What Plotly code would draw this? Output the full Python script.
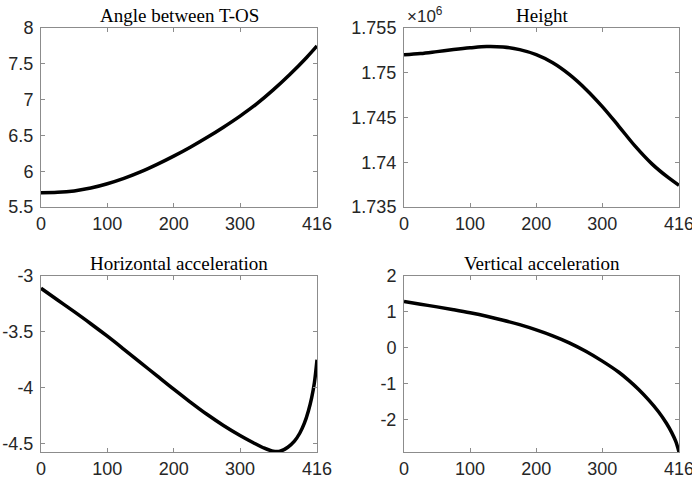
import plotly.graph_objects as go

W, H = 692, 478

# ---- data ----
x_angle = [0, 25, 50, 75, 100, 125, 150, 175, 200, 225, 250, 275, 300, 325, 350, 375, 400, 416]
angle = [5.70, 5.705, 5.725, 5.765, 5.825, 5.90, 5.99, 6.095, 6.21, 6.335, 6.47, 6.615, 6.77,
         6.94, 7.135, 7.35, 7.585, 7.75]

x_height = [0, 25, 50, 75, 100, 125, 150, 175, 200, 225, 250, 275, 300, 325, 350, 375, 400, 416]
height_e6 = [1.75200, 1.75214, 1.75236, 1.75259, 1.75279, 1.75294, 1.75288, 1.75258, 1.75202,
             1.75112, 1.74982, 1.74817, 1.74622, 1.74402, 1.74177, 1.73982, 1.73827, 1.73742]

x_hacc = [0, 25, 50, 75, 100, 125, 150, 175, 200, 225, 250, 275, 300, 320, 335, 348, 360, 372,
          382, 390, 397, 403, 408, 412, 416]
h_acc = [-3.11, -3.215, -3.32, -3.428, -3.54, -3.657, -3.776, -3.896, -4.015, -4.13, -4.24, -4.34,
         -4.43, -4.495, -4.54, -4.568, -4.572, -4.535, -4.48, -4.41, -4.32, -4.21, -4.09, -3.96, -3.75]

x_vacc = [0, 25, 50, 75, 100, 125, 150, 175, 200, 225, 250, 275, 300, 325, 340, 355, 370, 385,
          397, 405, 411, 416]
v_acc = [1.29, 1.215, 1.14, 1.06, 0.975, 0.88, 0.77, 0.645, 0.50, 0.335, 0.14, -0.095, -0.37,
         -0.68, -0.905, -1.16, -1.45, -1.78, -2.10, -2.36, -2.60, -2.90]

titles = ["Angle between T-OS", "Height", "Horizontal acceleration", "Vertical acceleration"]

x_tickvals = [0, 100, 200, 300, 416]
x_ticktext = ["0", "100", "200", "300", "416"]

y1_tickvals = [5.5, 6, 6.5, 7, 7.5, 8]
y1_ticktext = ["5.5", "6", "6.5", "7", "7.5", "8"]
y2_tickvals = [1.735, 1.74, 1.745, 1.75, 1.755]
y2_ticktext = ["1.735", "1.74", "1.745", "1.75", "1.755"]
y3_tickvals = [-4.5, -4, -3.5, -3]
y3_ticktext = ["-4.5", "-4", "-3.5", "-3"]
y4_tickvals = [-2, -1, 0, 1, 2]
y4_ticktext = ["-2", "-1", "0", "1", "2"]

# ---- layout geometry (window pixels) ----
panels = {
    1: (41, 317, 28, 207),
    2: (404, 679, 28, 207),
    3: (41, 317, 276, 452),
    4: (404, 679, 276, 452),
}
yranges = {1: [5.5, 8], 2: [1.735, 1.755], 3: [-4.578, -3], 4: [-2.9, 2]}
yticks = {1: (y1_tickvals, y1_ticktext), 2: (y2_tickvals, y2_ticktext),
          3: (y3_tickvals, y3_ticktext), 4: (y4_tickvals, y4_ticktext)}

series = {1: (x_angle, angle), 2: (x_height, height_e6), 3: (x_hacc, h_acc), 4: (x_vacc, v_acc)}


def px_x(p):
    return p / W


def px_y(p):
    return 1 - p / H


fig = go.Figure()
AX = "#8c8c8c"
TXT = "#262626"
tickfont = dict(family="Liberation Sans, Arial, sans-serif", size=18, color=TXT)

annotations = []
for i in range(1, 5):
    xs, ys = series[i]
    sfx = "" if i == 1 else str(i)
    fig.add_trace(go.Scatter(x=xs, y=ys, mode="lines", xaxis="x" + sfx, yaxis="y" + sfx,
                             line=dict(color="black", width=3.5, shape="spline", smoothing=1.0),
                             showlegend=False, hoverinfo="skip"))
    l, r, t, b = panels[i]
    xdom = [px_x(l), px_x(r)]
    ydom = [px_y(b), px_y(t)]
    common = dict(showline=True, linecolor=AX, linewidth=1, mirror="ticks", ticks="inside",
                  ticklen=4, tickcolor=AX, tickwidth=1, showgrid=False, zeroline=False,
                  tickfont=tickfont, fixedrange=True, automargin=False,
                  ticklabeloverflow="allow")
    fig.update_layout(**{
        "xaxis" + sfx: dict(domain=xdom, range=[0, 416], tickvals=x_tickvals, ticktext=x_ticktext,
                            anchor="y" + sfx, ticklabelstandoff=0, **common),
        "yaxis" + sfx: dict(domain=ydom, range=yranges[i], tickvals=yticks[i][0],
                            ticktext=yticks[i][1], anchor="x" + sfx, ticklabelstandoff=3, **common),
    })
    annotations.append(dict(text=titles[i - 1], x=px_x((l + r) / 2), y=px_y(t - 13),
                            xref="paper", yref="paper", xanchor="center", yanchor="middle",
                            showarrow=False,
                            font=dict(family="Liberation Serif, Times New Roman, serif", size=19,
                                      color="black")))

annotations.append(dict(text="×10<sup>6</sup>", x=px_x(405), y=px_y(28), xref="paper", yref="paper",
                        xanchor="left", yanchor="bottom", showarrow=False,
                        font=dict(family="Liberation Sans, Arial, sans-serif", size=17, color=TXT)))

fig.update_layout(width=W, height=H, margin=dict(l=0, r=0, t=0, b=0, pad=0, autoexpand=False),
                  paper_bgcolor="white", plot_bgcolor="white", annotations=annotations)

fig.write_html("out.html", config={"displayModeBar": False, "staticPlot": True},
               post_script="document.body.style.margin='0';document.body.style.overflow='hidden';")
